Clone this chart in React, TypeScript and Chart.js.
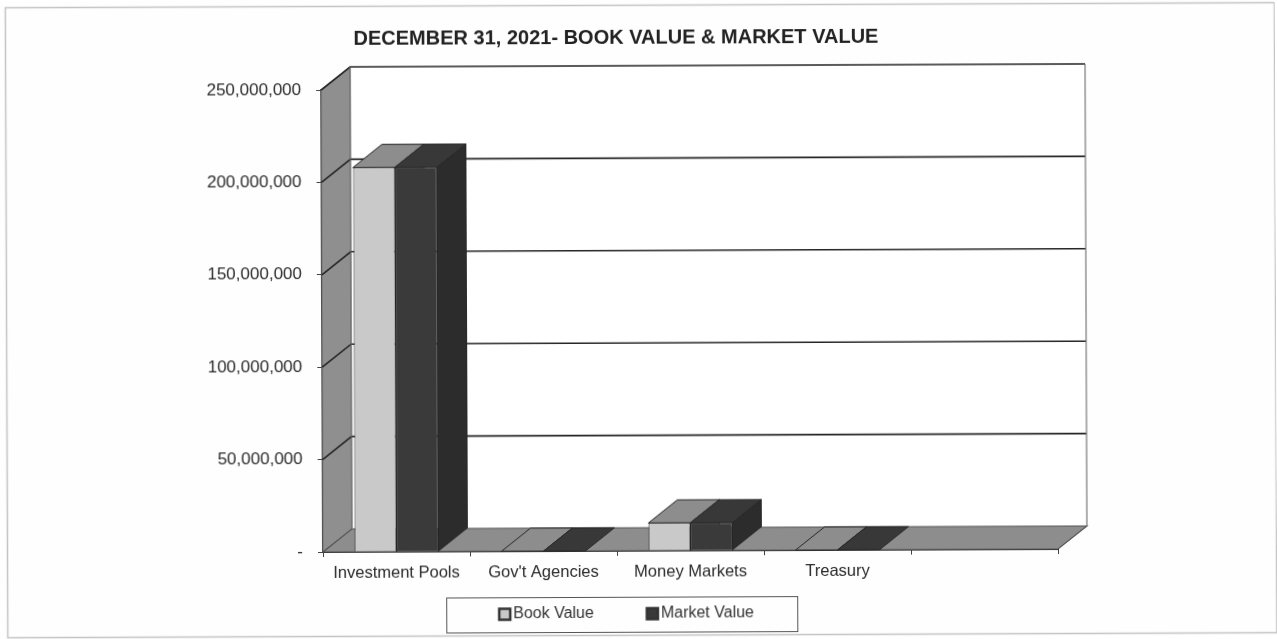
import React, { useEffect, useRef } from "react";
import { Chart, registerables } from "chart.js";

Chart.register(...registerables);

const categories = ["Investment Pools", "Gov't Agencies", "Money Markets", "Treasury", ""];
const bookValue = [208000000, 0, 15000000, 0, null];
const marketValue = [208000000, 0, 15000000, 0, null];
const seriesNames = ["Book Value", "Market Value"];
const titleText = "DECEMBER 31, 2021- BOOK VALUE & MARKET VALUE";
const yMax = 250000000;
const yStep = 50000000;

const FONT = "'Liberation Sans', Arial, sans-serif";
const DX = 29;
const DY = 23;
const INK = "#262626";
const FACE_TOP = ["#8d8d8d", "#383838"];
const FACE_SIDE = ["#8d8d8d", "#2c2c2c"];

function poly(ctx: CanvasRenderingContext2D, pts: number[][], fill: string | null, stroke: string | null, lw = 1) {
  ctx.beginPath();
  pts.forEach((p, i) => (i ? ctx.lineTo(p[0], p[1]) : ctx.moveTo(p[0], p[1])));
  ctx.closePath();
  if (fill) {
    ctx.fillStyle = fill;
    ctx.fill();
  }
  if (stroke) {
    ctx.strokeStyle = stroke;
    ctx.lineWidth = lw;
    ctx.stroke();
  }
}

function line(ctx: CanvasRenderingContext2D, pts: number[][], stroke: string, lw: number) {
  ctx.beginPath();
  pts.forEach((p, i) => (i ? ctx.lineTo(p[0], p[1]) : ctx.moveTo(p[0], p[1])));
  ctx.strokeStyle = stroke;
  ctx.lineWidth = lw;
  ctx.stroke();
}

const pageFrame = {
  id: "pageFrame",
  beforeDraw(chart: any) {
    const { ctx, width, height } = chart;
    ctx.save();
    ctx.fillStyle = "#fefefe";
    ctx.fillRect(0, 0, width, height);
    ctx.strokeStyle = "#c4c4c4";
    ctx.lineWidth = 1.5;
    ctx.strokeRect(7.5, 6.5, 1269, 630);
    ctx.restore();
  },
};

const floatingBoxes = {
  id: "floatingBoxes",
  beforeLayout(chart: any) {
    [chart.legend, chart.titleBlock].forEach((box: any) => {
      if (box && !box.__flat) {
        const update = box.update.bind(box);
        box.update = (...args: any[]) => {
          update(...args);
          box.height = 0;
        };
        box.__flat = true;
      }
    });
  },
  afterLayout(chart: any) {
    const t = chart.titleBlock;
    t.left = 318;
    t.right = 918;
    t.top = 29;
    t.bottom = 49;
    const l = chart.legend;
    l.left = 446;
    l.right = 1200;
    l.top = 549;
    l.bottom = 639;
  },
};

const depth3d = {
  id: "depth3d",
  beforeDatasetsDraw(chart: any) {
    const { ctx, chartArea: a, scales } = chart;
    const { left, right, top, bottom } = a;
    ctx.save();
    // back wall
    poly(ctx, [[left + DX, top - DY], [right + DX, top - DY], [right + DX, bottom - DY], [left + DX, bottom - DY]], "#ffffff", null);
    // side wall
    poly(ctx, [[left, top], [left + DX, top - DY], [left + DX, bottom - DY], [left, bottom]], "#8f8f8f", "#6e6e6e", 1);
    // floor
    poly(ctx, [[left, bottom], [right, bottom], [right + DX, bottom - DY], [left + DX, bottom - DY]], "#8d8d8d", "#555555", 1.2);
    // grid lines from the value axis
    scales.y.ticks.forEach((t: any) => {
      if (t.value <= 0) return;
      const y = scales.y.getPixelForValue(t.value);
      line(ctx, [[left, y], [left + DX, y - DY], [right + DX, y - DY]], INK, 1.6);
    });
    line(ctx, [[right + DX, top - DY], [right + DX, bottom - DY]], "#777777", 1.2);
    line(ctx, [[left + DX, top - DY], [left + DX, bottom - DY]], "#6e6e6e", 1);
    // bar tops and sides
    chart.getSortedVisibleDatasetMetas().forEach((meta: any) => {
      const idx = meta.index;
      meta.data.forEach((bar: any, i: number) => {
        const v = chart.data.datasets[idx].data[i];
        if (v === null || v === undefined) return;
        const x0 = bar.x - bar.width / 2;
        const x1 = bar.x + bar.width / 2;
        const y = bar.y;
        const b = bar.base;
        if (b - y > 0.5) {
          poly(ctx, [[x1, y], [x1 + DX, y - DY], [x1 + DX, b - DY], [x1, b]], FACE_SIDE[idx], INK, 1);
        }
        poly(ctx, [[x0, y], [x1, y], [x1 + DX, y - DY], [x0 + DX, y - DY]], FACE_TOP[idx], INK, 1);
      });
    });
    ctx.restore();
  },
  afterDraw(chart: any) {
    const { ctx } = chart;
    ctx.save();
    ctx.strokeStyle = "#555555";
    ctx.lineWidth = 1;
    ctx.strokeRect(446.5, 598.5, 351, 35);
    ctx.restore();
  },
};

export default function App() {
  const ref = useRef<HTMLCanvasElement>(null);
  useEffect(() => {
    const chart = new Chart(ref.current as HTMLCanvasElement, {
      type: "bar",
      data: {
        labels: categories,
        datasets: [
          { label: seriesNames[0], data: bookValue, backgroundColor: "#c9c9c9", borderColor: INK, borderWidth: 1 },
          { label: seriesNames[1], data: marketValue, backgroundColor: "#3a3a3a", borderColor: INK, borderWidth: 1 },
        ],
      },
      plugins: [pageFrame, floatingBoxes, depth3d],
      options: {
        responsive: false,
        animation: false,
        layout: { padding: { left: 0, right: 219, top: 90, bottom: 0 } },
        datasets: { bar: { categoryPercentage: 0.571, barPercentage: 1 } },
        scales: {
          x: {
            afterFit: (s: any) => {
              s.height = 87;
            },
            grid: { drawOnChartArea: false, tickLength: 5, color: "#444444", offset: true },
            border: { color: "#222222", width: 2 },
            ticks: { color: "#2a2a2a", font: { family: FONT, size: 16.5 }, padding: 7, maxRotation: 0, autoSkip: false },
          },
          y: {
            min: 0,
            max: yMax,
            afterFit: (s: any) => {
              s.width = 323;
            },
            grid: { drawOnChartArea: false, tickLength: 5, color: "#444444" },
            border: { color: "#333333", width: 2 },
            ticks: {
              stepSize: yStep,
              color: "#2a2a2a",
              padding: 15,
              font: { family: FONT, size: 17 },
              callback: (v: any) => (v === 0 ? "-" : Number(v).toLocaleString("en-US")),
            },
          },
        },
        plugins: {
          tooltip: { enabled: false },
          title: {
            display: true,
            text: titleText,
            color: "#222222",
            align: "center",
            padding: 0,
            font: { family: FONT, size: 20, weight: "bold", lineHeight: 1 },
          },
          legend: {
            display: true,
            position: "bottom",
            align: "start",
            labels: {
              usePointStyle: true,
              pointStyle: "rect",
              boxWidth: 1,
              boxHeight: 11,
              padding: 58,
              color: "#333333",
              font: { family: FONT, size: 16 },
              generateLabels: (c: any) =>
                Chart.defaults.plugins.legend.labels.generateLabels(c).map((it: any) => ({ ...it, lineWidth: 2.5, strokeStyle: "#333333" })),
            },
          },
        },
      } as any,
    });
    return () => chart.destroy();
  }, []);
  return (
    <canvas
      ref={ref}
      width={1277}
      height={639}
      style={{
        position: "fixed",
        left: 0,
        top: 0,
        width: 1277,
        height: 639,
        transform: "rotate(-0.23deg)",
        transformOrigin: "323px 552px",
      }}
    />
  );
}
